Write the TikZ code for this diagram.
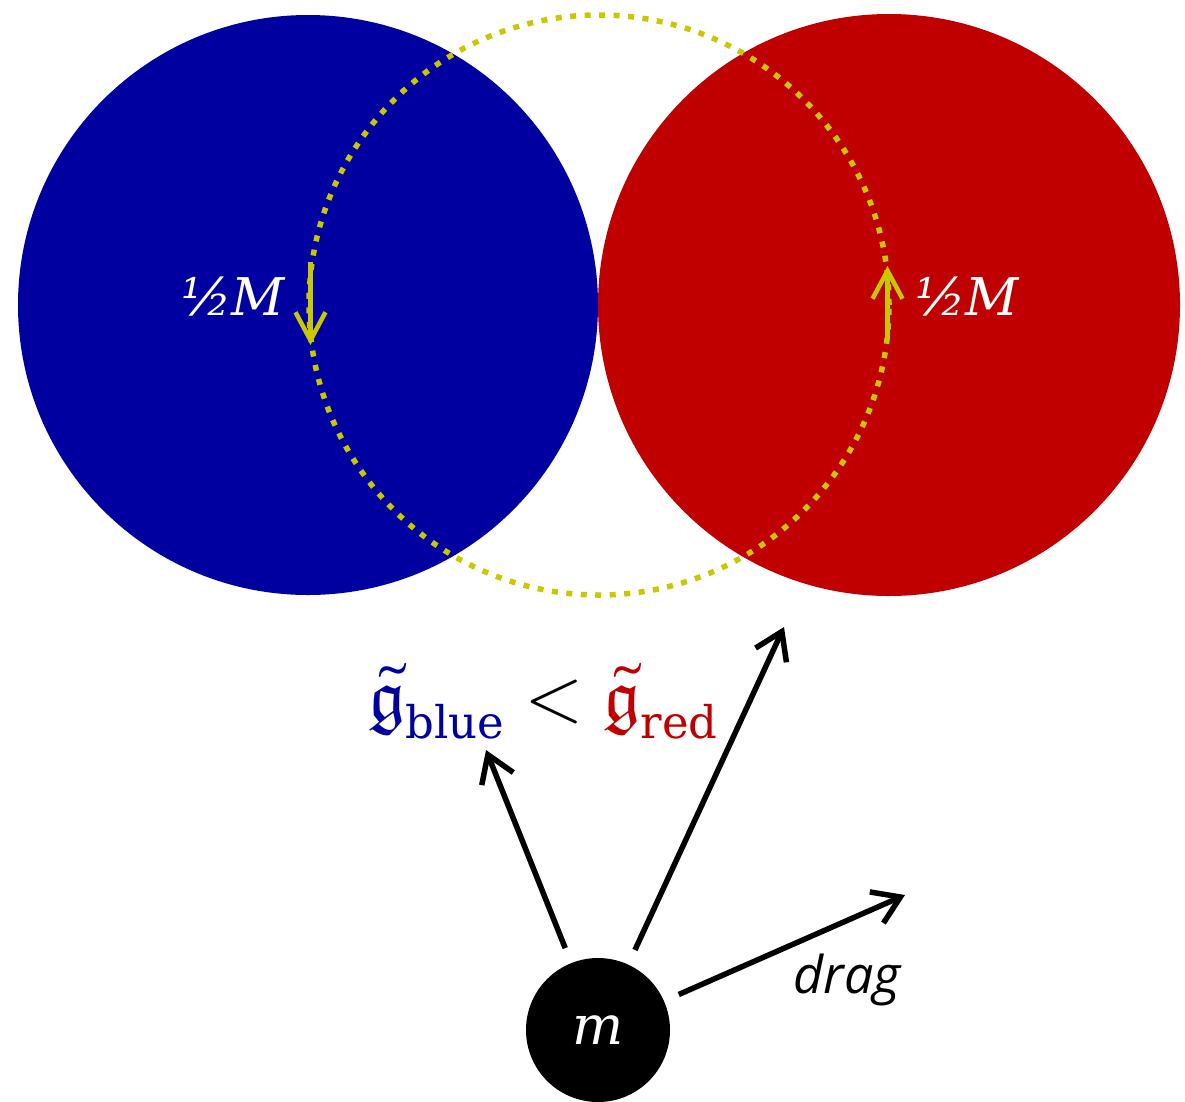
\documentclass[tikz,border=0pt]{standalone}
\usepackage{fontspec}
\usepackage{unicode-math}
\setmathfont{Latin Modern Math}
\newfontfamily\dvs{DejaVu Serif}
\newfontfamily\osans{Open Sans}
\usetikzlibrary{arrows.meta}
\definecolor{cblue}{RGB}{0,0,160}
\definecolor{cred}{RGB}{192,0,0}
\definecolor{cyel}{RGB}{200,200,0}
\tikzset{
  ydots/.style={draw=cyel, line width=5.5pt, dash pattern=on 6pt off 8.5pt},
  yarrow/.style={draw=cyel, line width=4.5pt, -{Straight Barb[length=28pt,width=30pt,line width=4.5pt]}},
  karrow/.style={draw=black, line width=5.5pt, shorten <=16pt, -{Straight Barb[length=26pt,width=34pt,line width=5.5pt]}},
  halfm/.style={text=white, font=\dvs\itshape\fontsize{52}{60}\selectfont, inner sep=0pt, anchor=base},
  mass/.style={circle, fill=black, minimum size=144pt, inner sep=0pt, text=white, font=\dvs\itshape\fontsize{54}{60}\selectfont},
}
\begin{document}
\begin{tikzpicture}[x=1pt, y=-1pt]
\useasboundingbox (0,0) rectangle (1185,1101);
\fill[cblue] (308,305) circle[radius=290pt];
\fill[cred] (889,305) circle[radius=291pt];
\draw[ydots] (599,305) circle[radius=290pt];
\coordinate (la) at (310.5,262);
\coordinate (lb) at (310.5,345);
\coordinate (ra) at (887.5,340);
\coordinate (rb) at (887.5,266);
\draw[yarrow] (la) -- (lb);
\draw[yarrow] (ra) -- (rb);
\node[halfm] (hl) at (233,315) {½M};
\node[halfm] (hr) at (967,315) {½M};
\node[inner sep=0pt, anchor=base, font=\fontsize{74}{84}\selectfont] (rel) at (543,720)
  {$\textcolor{cblue}{\tilde{\mathfrak{g}}_{\mbox{\fontsize{45}{50}\selectfont\dvs blue}}} < \textcolor{cred}{\tilde{\mathfrak{g}}_{\mbox{\fontsize{45}{50}\selectfont\dvs red}}}$};
\node[mass] (m) at (598,1030) {m};
\coordinate (t1) at (486,750);
\coordinate (t2) at (784,627);
\coordinate (t3) at (905,895);
\draw[karrow] (m) -- (t1);
\draw[karrow] (m) -- (t2);
\draw[karrow] (m) -- (t3);
\node[inner sep=0pt, anchor=base, font=\osans\itshape\fontsize{52}{60}\selectfont] (drag) at (847,993) {drag};
\end{tikzpicture}
\end{document}
